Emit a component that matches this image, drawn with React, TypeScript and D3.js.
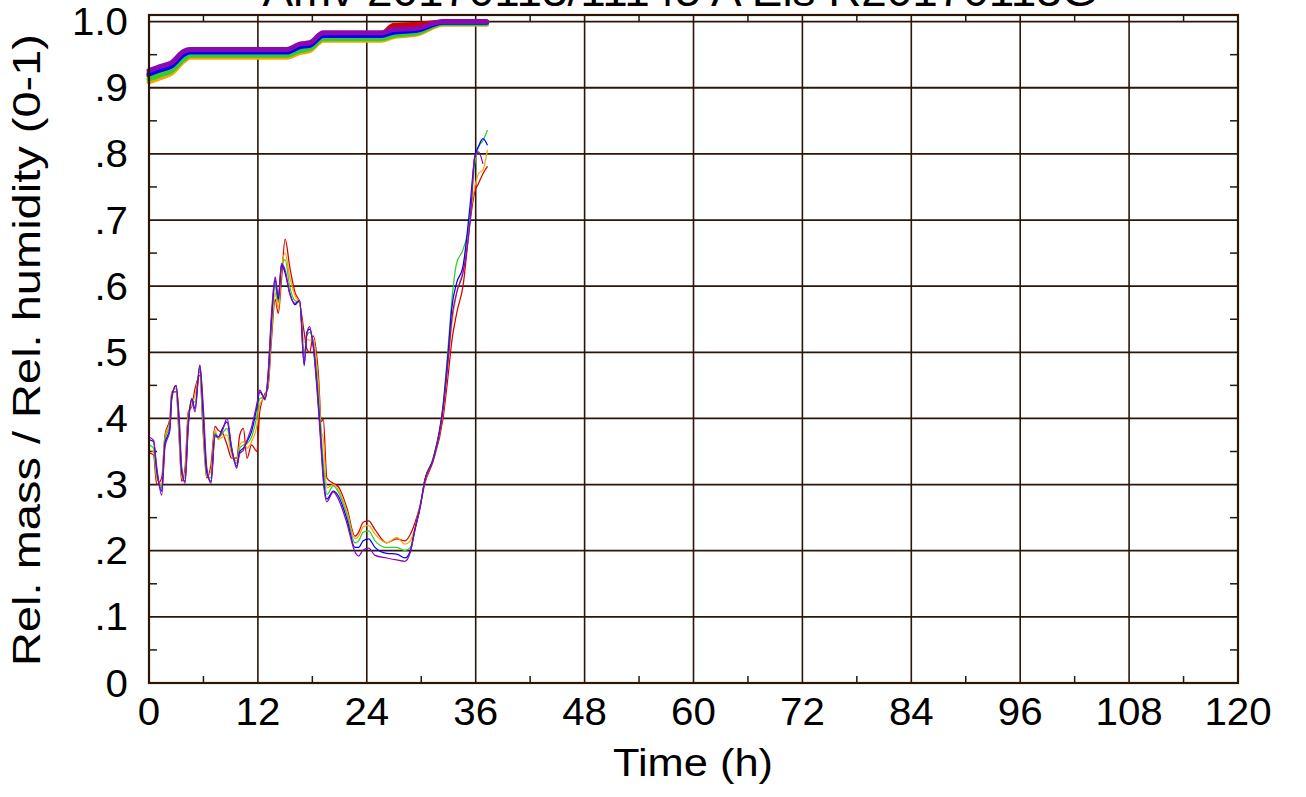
import React from "react";
import * as d3 from "d3";

const W = 1306;
const H = 797;

const titleText = "Amv 20170113/11145 A Eis R20170113G";
const xLabel = "Time (h)";
const yLabel = "Rel. mass / Rel. humidity (0-1)";

const xTicks = [0, 12, 24, 36, 48, 60, 72, 84, 96, 108, 120];
const xMinor = [6, 18, 30, 42, 54, 66, 78, 90, 102, 114];
const yTicks = [0, 0.1, 0.2, 0.3, 0.4, 0.5, 0.6, 0.7, 0.8, 0.9, 1.0];
const yTickLabels = ["0", ".1", ".2", ".3", ".4", ".5", ".6", ".7", ".8", ".9", "1.0"];
const yMinor = [0.05, 0.15, 0.25, 0.35, 0.45, 0.55, 0.65, 0.75, 0.85, 0.95];

const seriesNames = ["red", "orange", "green", "blue", "purple"];
const seriesColors = ["#d40000", "#ffa500", "#33cc33", "#0000ff", "#8a0ab0"];

// relative mass (thick lines)
const massTime = [0, 1.2, 2.5, 3.8, 4.5, 15.2, 16.6, 17.7, 19.2, 25.6, 26.9, 29.5, 32.4, 37.2];
const massRed = [0.918, 0.924, 0.931, 0.948, 0.952, 0.952, 0.96, 0.963, 0.978, 0.981, 0.994, 0.996, 0.999, 0.999];
const massOrange = [0.909, 0.915, 0.922, 0.94, 0.946, 0.946, 0.953, 0.956, 0.972, 0.972, 0.977, 0.981, 0.996, 0.996];
const massGreen = [0.913, 0.919, 0.926, 0.943, 0.949, 0.949, 0.956, 0.959, 0.974, 0.974, 0.979, 0.983, 0.997, 0.997];
const massBlue = [0.921, 0.927, 0.933, 0.95, 0.954, 0.954, 0.962, 0.964, 0.979, 0.979, 0.984, 0.987, 0.999, 0.999];
const massPurple = [0.926, 0.932, 0.938, 0.955, 0.958, 0.958, 0.966, 0.968, 0.983, 0.983, 0.988, 0.99, 1.0, 1.0];

// relative humidity (thin lines)
const rhTime = [0, 0.5, 0.85, 1.4, 1.76, 2.3, 2.5, 2.98, 3.34, 3.6, 3.97, 4.33, 4.7, 5.07, 5.6, 5.98, 6.36, 6.83, 7.27, 7.64,
  8.1, 8.6, 9.1, 9.66, 10.0, 10.4, 10.8, 11.3, 11.9, 12.2, 12.8, 13.1, 13.5, 13.9, 14.25, 14.6, 15.0, 15.5, 16.1, 16.6,
  17.1, 17.4, 17.7, 18.1, 18.65, 19.0, 19.2, 19.6, 20.3, 20.9, 21.8, 22.7, 23.1, 23.6, 24.2, 24.9, 26.2, 27.3, 28.2, 28.8,
  29.3, 29.9, 30.4, 31.3, 32.4, 33.0, 33.35, 33.9, 34.6, 35.4, 35.9, 36.3, 36.8, 37.3];
const rhRed = [0.348, 0.345, 0.3, 0.31, 0.375, 0.4, 0.44, 0.44, 0.365, 0.305, 0.325, 0.41, 0.418, 0.445, 0.465, 0.375, 0.31, 0.33, 0.388, 0.382,
  0.378, 0.36, 0.34, 0.34, 0.375, 0.385, 0.34, 0.36, 0.35, 0.41, 0.438, 0.445, 0.52, 0.58, 0.559, 0.61, 0.671, 0.63, 0.59, 0.575,
  0.53, 0.505, 0.5, 0.525, 0.47, 0.395, 0.4, 0.31, 0.302, 0.296, 0.265, 0.222, 0.228, 0.243, 0.245, 0.232, 0.212, 0.218, 0.215, 0.225,
  0.242, 0.27, 0.302, 0.335, 0.4, 0.47, 0.515, 0.559, 0.6, 0.7, 0.743, 0.755, 0.77, 0.781];
const rhOrange = [0.352, 0.35, 0.31, 0.3, 0.372, 0.395, 0.438, 0.445, 0.372, 0.31, 0.318, 0.405, 0.42, 0.435, 0.47, 0.385, 0.312, 0.32, 0.382, 0.368,
  0.372, 0.375, 0.345, 0.336, 0.36, 0.365, 0.355, 0.365, 0.39, 0.42, 0.435, 0.45, 0.53, 0.59, 0.565, 0.625, 0.65, 0.615, 0.585, 0.575,
  0.515, 0.52, 0.518, 0.52, 0.455, 0.38, 0.37, 0.295, 0.3, 0.292, 0.26, 0.218, 0.222, 0.236, 0.238, 0.225, 0.212, 0.22, 0.21, 0.215,
  0.235, 0.27, 0.305, 0.338, 0.41, 0.49, 0.54, 0.59, 0.625, 0.71, 0.75, 0.77, 0.776, 0.806];
const rhGreen = [0.36, 0.355, 0.315, 0.295, 0.368, 0.39, 0.435, 0.448, 0.38, 0.315, 0.31, 0.398, 0.425, 0.425, 0.476, 0.395, 0.315, 0.31, 0.378, 0.37,
  0.378, 0.385, 0.35, 0.332, 0.355, 0.36, 0.362, 0.372, 0.405, 0.43, 0.432, 0.455, 0.54, 0.6, 0.575, 0.63, 0.64, 0.6, 0.578, 0.576,
  0.5, 0.525, 0.53, 0.515, 0.44, 0.37, 0.335, 0.285, 0.298, 0.288, 0.255, 0.212, 0.215, 0.228, 0.23, 0.215, 0.205, 0.205, 0.2, 0.205,
  0.232, 0.268, 0.308, 0.34, 0.42, 0.515, 0.575, 0.635, 0.655, 0.705, 0.786, 0.81, 0.82, 0.836];
const rhBlue = [0.368, 0.365, 0.322, 0.29, 0.362, 0.385, 0.432, 0.45, 0.39, 0.32, 0.305, 0.392, 0.43, 0.415, 0.48, 0.405, 0.32, 0.305, 0.375, 0.372,
  0.385, 0.395, 0.355, 0.328, 0.35, 0.355, 0.365, 0.38, 0.418, 0.44, 0.43, 0.46, 0.55, 0.61, 0.58, 0.632, 0.62, 0.59, 0.572, 0.578,
  0.48, 0.53, 0.535, 0.51, 0.425, 0.355, 0.315, 0.278, 0.29, 0.282, 0.248, 0.205, 0.205, 0.215, 0.218, 0.205, 0.196, 0.195, 0.189, 0.2,
  0.232, 0.268, 0.307, 0.338, 0.418, 0.505, 0.565, 0.605, 0.63, 0.725, 0.796, 0.811, 0.823, 0.813];
const rhPurple = [0.372, 0.367, 0.327, 0.284, 0.357, 0.382, 0.428, 0.45, 0.398, 0.327, 0.302, 0.387, 0.428, 0.41, 0.481, 0.418, 0.327, 0.302, 0.372, 0.372,
  0.382, 0.4, 0.357, 0.325, 0.347, 0.352, 0.367, 0.387, 0.423, 0.443, 0.428, 0.463, 0.559, 0.614, 0.584, 0.634, 0.624, 0.589, 0.574, 0.579,
  0.483, 0.529, 0.539, 0.508, 0.418, 0.347, 0.307, 0.274, 0.289, 0.277, 0.242, 0.198, 0.192, 0.201, 0.204, 0.193, 0.189, 0.186, 0.184, 0.198,
  0.231, 0.267, 0.307, 0.337, 0.413, 0.493, 0.549, 0.59, 0.62, 0.7, 0.796, 0.803, 0.785, null];

const massSeries = [massRed, massOrange, massGreen, massBlue, massPurple];
const rhSeries = [rhRed, rhOrange, rhGreen, rhBlue, rhPurple];

const GRID = "#2b1608";
const FONT = "'Liberation Sans', Arial, Helvetica, sans-serif";

export default function App() {
  const left = 149, right = 1238, top = 15, bottom = 683;
  const x = d3.scaleLinear().domain([0, 120]).range([left, right]);
  const y = d3.scaleLinear().domain([0, 1.01]).range([bottom, top]);

  const mkLine = (times: number[], curve: d3.CurveFactory) =>
    d3
      .line<number | null>()
      .defined((d) => d !== null)
      .x((_, i) => x(times[i]))
      .y((d) => y(d as number))
      .curve(curve);

  const massLine = mkLine(massTime, d3.curveMonotoneX);
  const rhLine = mkLine(rhTime, d3.curveMonotoneX);

  const sx = 1.06;

  return (
    <svg width={W} height={H} style={{ position: "absolute", left: 0, top: 0, background: "#fff" }} fontFamily={FONT}>
      <rect x={0} y={0} width={W} height={H} fill="#fff" />
      {/* grid */}
      {xTicks.slice(1, -1).map((t) => (
        <line key={"gx" + t} x1={x(t)} x2={x(t)} y1={top} y2={bottom} stroke={GRID} strokeWidth={1.6} />
      ))}
      {yTicks.slice(1).map((t) => (
        <line key={"gy" + t} x1={left} x2={right} y1={y(t)} y2={y(t)} stroke={GRID} strokeWidth={1.8} />
      ))}
      {/* minor ticks */}
      {xMinor.map((t) => (
        <g key={"mx" + t}>
          <line x1={x(t)} x2={x(t)} y1={bottom} y2={bottom - 7} stroke={GRID} strokeWidth={1.5} />
          <line x1={x(t)} x2={x(t)} y1={top} y2={top + 7} stroke={GRID} strokeWidth={1.5} />
        </g>
      ))}
      {yMinor.map((t) => (
        <g key={"my" + t}>
          <line x1={left} x2={left + 8} y1={y(t)} y2={y(t)} stroke={GRID} strokeWidth={1.5} />
          <line x1={right} x2={right - 8} y1={y(t)} y2={y(t)} stroke={GRID} strokeWidth={1.5} />
        </g>
      ))}
      {/* humidity lines */}
      {rhSeries.map((s, i) => (
        <path key={"rh" + seriesNames[i]} d={rhLine(s) || ""} fill="none" stroke={seriesColors[i]} strokeWidth={1.25} strokeLinejoin="round" />
      ))}
      {/* mass lines */}
      {massSeries.map((s, i) => (
        <path key={"m" + seriesNames[i]} d={massLine(s) || ""} fill="none" stroke={seriesColors[i]} strokeWidth={5} strokeLinejoin="round" strokeLinecap="round" />
      ))}
      {/* border */}
      <rect x={left} y={top} width={right - left} height={bottom - top} fill="none" stroke={GRID} strokeWidth={2.2} />
      {/* tick labels */}
      {yTicks.map((t, i) => (
        <g key={"yl" + t} transform={`translate(128, ${y(t) + 13.5}) scale(${sx}, 1)`}>
          <text x={0} y={0} textAnchor="end" fontSize={38} fill="#000">
            {yTickLabels[i]}
          </text>
        </g>
      ))}
      {xTicks.map((t) => (
        <g key={"xl" + t} transform={`translate(${x(t)}, 725) scale(${sx}, 1)`}>
          <text x={0} y={0} textAnchor="middle" fontSize={38} fill="#000">
            {t}
          </text>
        </g>
      ))}
      <text x={693} y={776} textAnchor="middle" fontSize={38} fill="#000" textLength={160} lengthAdjust="spacingAndGlyphs">
        {xLabel}
      </text>
      <text transform={`translate(40, 350) rotate(-90)`} textAnchor="middle" fontSize={38} fill="#000" textLength={632} lengthAdjust="spacingAndGlyphs">
        {yLabel}
      </text>
      <text x={680} y={5.5} textAnchor="middle" fontSize={44} fill="#000" textLength={835} lengthAdjust="spacingAndGlyphs">
        {titleText}
      </text>
    </svg>
  );
}
